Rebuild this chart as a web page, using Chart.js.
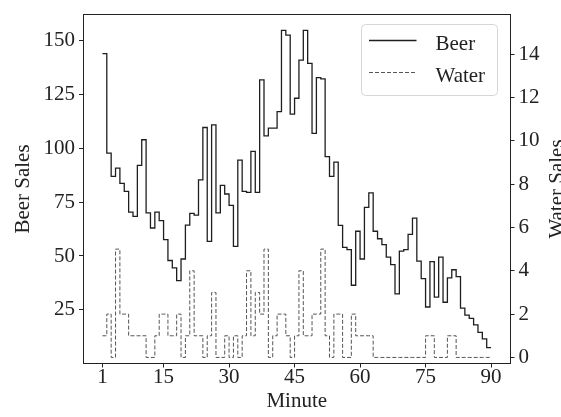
<!DOCTYPE html>
<html>
<head>
<meta charset="utf-8">
<script src="https://cdn.jsdelivr.net/npm/chart.js@4.4.1/dist/chart.umd.min.js"></script>
<style>
  html, body { margin: 0; padding: 0; background: #fff; }
  canvas { display: block; }
</style>
</head>
<body>
<canvas id="chart" width="561" height="417"></canvas>
<script>
// ================= DATA =================
// minute edges of the steps (value i is held from minutes[i] to minutes[i + 1])
const minutes = [
  1, 2, 3, 4, 5, 6, 7, 8, 9, 10, 11, 12, 13, 14, 15, 16, 17, 18, 19, 20,
  21, 22, 23, 24, 25, 26, 27, 28, 29, 30, 31, 32, 33, 34, 35, 36, 37, 38, 39, 40,
  41, 42, 43, 44, 45, 46, 47, 48, 49, 50, 51, 52, 53, 54, 55, 56, 57, 58, 59, 60,
  61, 62, 63, 64, 65, 66, 67, 68, 69, 70, 71, 72, 73, 74, 75, 76, 77, 78, 79, 80,
  81, 82, 83, 84, 85, 86, 87, 88, 89, 90
];

const beerSales = [
  144, 97.8, 87, 90.8, 83.7, 80, 70.4, 68.4, 92.1, 104,
  70, 63, 70.4, 66.4, 57.6, 47.9, 44.5, 38.6, 48.6, 64.3,
  69.8, 69, 85.4, 109.7, 56.8, 110.9, 70, 82.8, 78.8, 73.5,
  54.5, 94.5, 80, 79.6, 98.6, 79.6, 131.8, 105.8, 109.4, 109.4,
  117.1, 154.8, 152.6, 115.9, 123.3, 141, 154.8, 139.5, 107, 132.9,
  132.3, 96.2, 87, 93.6, 64.2, 54, 53, 36.4, 61.5, 48.6,
  72.6, 79.3, 61.5, 58, 55.3, 49.5, 46, 32.4, 52.3, 53,
  60, 67.6, 47.6, 39.5, 26.3, 47.4, 30.9, 49.5, 28.5, 39.8,
  43.6, 40.4, 25.8, 22.5, 21, 18, 14.5, 11.5, 7.4
];

const waterSales = [
  1, 2, 0, 5, 2, 2, 1, 1, 1, 1,
  0, 0, 1, 2, 2, 1, 1, 2, 0, 1,
  4, 1, 1, 0, 1, 3, 0, 0, 1, 0,
  1, 0, 1, 4, 1, 3, 2, 5, 0, 1,
  2, 2, 1, 0, 1, 4, 1, 1, 2, 2,
  5, 1, 0, 2, 2, 0, 0, 2, 1, 1,
  1, 1, 0, 0, 0, 0, 0, 0, 0, 0,
  0, 0, 0, 0, 1, 1, 0, 0, 0, 1,
  1, 0, 0, 0, 0, 0, 0, 0, 0
];

const minuteTicks = [1, 15, 30, 45, 60, 75, 90];
const beerTicks = [25, 50, 75, 100, 125, 150];
const waterTicks = [0, 2, 4, 6, 8, 10, 12, 14];

// ================= STYLE =================
const FONT = "'Liberation Serif', 'Times New Roman', serif";
const INK = "#222";

// step table for the library: last edge repeats the last value
function stepPoints(values) {
  return minutes.map((m, i) => ({ x: m, y: values[Math.min(i, values.length - 1)] }));
}

function fixTicks(list) {
  return scale => { scale.ticks = list.map(v => ({ value: v })); };
}

const tickGrid = {
  display: true,
  drawOnChartArea: false,
  drawTicks: true,
  tickLength: 4,
  tickColor: INK,
  tickWidth: 1
};

// ================= FRAME / LEGEND / RIGHT TITLE =================
function roundRectPath(ctx, x, y, w, h, r) {
  ctx.beginPath();
  ctx.moveTo(x + r, y);
  ctx.lineTo(x + w - r, y);
  ctx.arcTo(x + w, y, x + w, y + r, r);
  ctx.lineTo(x + w, y + h - r);
  ctx.arcTo(x + w, y + h, x + w - r, y + h, r);
  ctx.lineTo(x + r, y + h);
  ctx.arcTo(x, y + h, x, y + h - r, r);
  ctx.lineTo(x, y + r);
  ctx.arcTo(x, y, x + r, y, r);
  ctx.closePath();
}

const decorPlugin = {
  id: "decor",
  afterDatasetsDraw(chart) {
    const { ctx, chartArea: a } = chart;
    ctx.save();

    // axes frame
    const x0 = Math.floor(a.left) + 0.5, x1 = Math.floor(a.right) + 0.5;
    const y0 = Math.floor(a.top) + 0.5, y1 = Math.floor(a.bottom) + 0.5;
    ctx.strokeStyle = INK;
    ctx.lineWidth = 1;
    ctx.strokeRect(x0, y0, x1 - x0, y1 - y0);

    // legend (upper right)
    roundRectPath(ctx, 361.5, 24.5, 136, 71, 4);
    ctx.fillStyle = "rgba(255,255,255,0.8)";
    ctx.fill();
    ctx.strokeStyle = "#d6d6d6";
    ctx.stroke();

    ctx.font = "21px " + FONT;
    ctx.textBaseline = "alphabetic";
    ctx.textAlign = "left";
    chart.data.datasets.forEach((ds, i) => {
      const y = 40.5 + i * 32;
      ctx.strokeStyle = ds.borderColor;
      ctx.lineWidth = ds.borderWidth;
      ctx.setLineDash(ds.borderDash || []);
      ctx.beginPath();
      ctx.moveTo(369, y);
      ctx.lineTo(416.5, y);
      ctx.stroke();
      ctx.setLineDash([]);
      ctx.fillStyle = INK;
      ctx.fillText(ds.label, 435.5, y + 9.3);
    });

    // right axis title, reads bottom to top
    ctx.translate(562.5, (a.top + a.bottom) / 2);
    ctx.rotate(-Math.PI / 2);
    ctx.textAlign = "center";
    ctx.fillStyle = INK;
    ctx.fillText("Water Sales", 0, 0);

    ctx.restore();
  }
};

// ================= CHART =================
const ctx = document.getElementById("chart").getContext("2d");

new Chart(ctx, {
  type: "line",
  data: {
    datasets: [
      {
        label: "Beer",
        data: stepPoints(beerSales),
        yAxisID: "yBeer",
        stepped: "before",
        borderColor: "#1e1e1e",
        borderWidth: 1.3,
        pointRadius: 0,
        fill: false
      },
      {
        label: "Water",
        data: stepPoints(waterSales),
        yAxisID: "yWater",
        stepped: "before",
        borderColor: "#555",
        borderWidth: 1,
        borderDash: [4, 2],
        pointRadius: 0,
        fill: false
      }
    ]
  },
  options: {
    responsive: false,
    animation: false,
    devicePixelRatio: 1,
    layout: { padding: { top: 12, left: 0, right: 0, bottom: 0 } },
    plugins: {
      legend: { display: false },
      tooltip: { enabled: false }
    },
    scales: {
      x: {
        type: "linear",
        position: "bottom",
        min: -3.45,
        max: 94.45,
        afterBuildTicks: fixTicks(minuteTicks),
        afterFit: s => { s.height = 53.5; },
        grid: tickGrid,
        border: { display: false },
        ticks: {
          autoSkip: false,
          maxRotation: 0,
          padding: -1,
          color: INK,
          font: { family: FONT, size: 21, lineHeight: 1 }
        },
        title: {
          display: true,
          text: "Minute",
          color: INK,
          font: { family: FONT, size: 21, lineHeight: 1.2 },
          padding: { top: 0, bottom: 3 }
        }
      },
      yBeer: {
        type: "linear",
        position: "left",
        min: 0.05,
        max: 162.2,
        afterBuildTicks: fixTicks(beerTicks),
        afterFit: s => { s.width = 83; },
        grid: tickGrid,
        border: { display: false },
        ticks: {
          padding: 4,
          color: INK,
          font: { family: FONT, size: 21, lineHeight: 1 }
        },
        title: {
          display: true,
          text: "Beer Sales",
          color: INK,
          font: { family: FONT, size: 21, lineHeight: 1.2 },
          padding: { top: 11, bottom: 0 }
        }
      },
      yWater: {
        type: "linear",
        position: "right",
        min: -0.28,
        max: 15.83,
        afterBuildTicks: fixTicks(waterTicks),
        afterFit: s => { s.width = 50.5; },
        grid: tickGrid,
        border: { display: false },
        ticks: {
          padding: 4,
          color: INK,
          font: { family: FONT, size: 21, lineHeight: 1 }
        }
      }
    }
  },
  plugins: [decorPlugin]
});
</script>
</body>
</html>
